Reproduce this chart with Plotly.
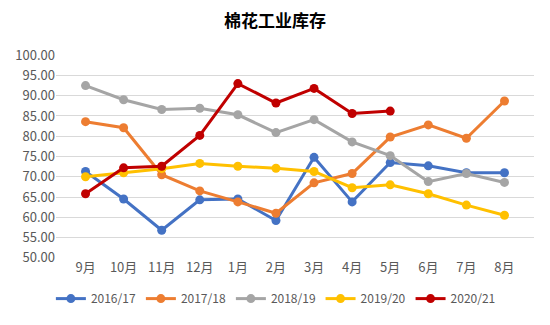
import plotly.graph_objects as go

months = ["9月", "10月", "11月", "12月", "1月", "2月", "3月", "4月", "5月", "6月", "7月", "8月"]
s2016 = [71.3, 64.5, 56.8, 64.3, 64.5, 59.2, 74.8, 63.8, 73.5, 72.7, 71.0, 71.0]
s2017 = [83.6, 82.1, 70.5, 66.5, 63.8, 61.0, 68.5, 70.8, 79.8, 82.8, 79.5, 88.7]
s2018 = [92.5, 89.0, 86.6, 86.9, 85.3, 80.9, 84.1, 78.6, 75.2, 68.8, 70.8, 68.6]
s2019 = [70.0, 71.0, 72.0, 73.3, 72.6, 72.1, 71.3, 67.3, 68.0, 65.8, 63.0, 60.5]
s2020 = [65.8, 72.2, 72.6, 80.2, 93.0, 88.2, 91.8, 85.6, 86.2]
names = ["2016/17", "2017/18", "2018/19", "2019/20", "2020/21"]
colors = ["#4472C4", "#ED7D31", "#A5A5A5", "#FFC000", "#C00000"]

fig = go.Figure()
for name, vals, c in zip(names, [s2016, s2017, s2018, s2019, s2020], colors):
    fig.add_trace(go.Scatter(
        x=months[:len(vals)], y=vals, name=name, mode="lines+markers",
        line=dict(color=c, width=3), marker=dict(color=c, size=9),
    ))

fig.update_layout(
    width=550, height=325,
    margin=dict(l=56, r=16, t=55, b=67),
    paper_bgcolor="white", plot_bgcolor="white",
    font=dict(family="Noto Sans CJK SC, sans-serif", color="#595959", size=12),
    title=dict(text="<b>棉花工业库存</b>", x=0.5, xanchor="center", y=0.935, yanchor="middle",
               font=dict(size=17, color="#000000", family="Noto Sans CJK SC, sans-serif")),
    showlegend=True,
    legend=dict(orientation="h", x=0.46, xanchor="center", y=-0.2, yanchor="middle",
                font=dict(size=12, color="#595959"), itemwidth=30, traceorder="normal"),
    xaxis=dict(type="category", categoryorder="array", categoryarray=months,
               showgrid=False, showline=False, ticks="", tickfont=dict(size=13)),
    yaxis=dict(range=[49.95, 100.05], tick0=50, dtick=5, tickformat=".2f", showgrid=True,
               gridcolor="#D9D9D9", gridwidth=1, zeroline=False, showline=False,
               ticks="", tickfont=dict(size=13)),
)
fig.write_html("out.html")
